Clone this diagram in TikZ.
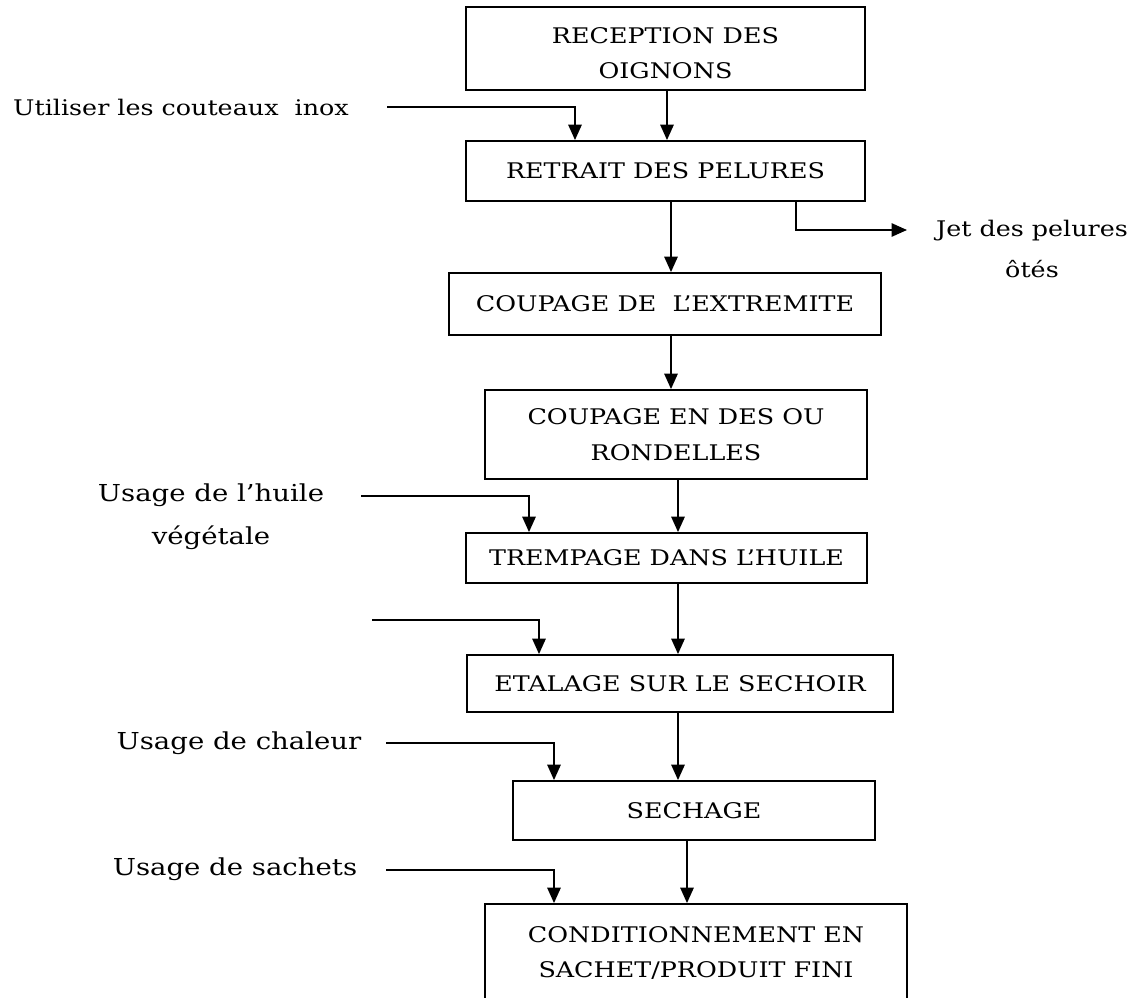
\documentclass[tikz,border=0pt]{standalone}
\usepackage{fontspec}
\setmainfont{DejaVu Serif}[FakeStretch=1.18]
\usetikzlibrary{arrows.meta}
\newlength\upx
\setlength\upx{0.025cm}
\newcommand\stepfont{\fontsize{15.3}{25.5}\selectfont}
\newcommand\wastefont{\fontsize{15.3}{29.8}\selectfont}
\newcommand\inputfont{\fontsize{16.6}{30.5}\selectfont}
\begin{document}
\begin{tikzpicture}[x=0.025cm, y=-0.025cm,
  stepbox/.style={draw, line width=1.3pt, inner sep=0pt, align=center, font=\stepfont},
  flow/.style={line width=1.3pt, -{Triangle[length=11pt,width=9.5pt]}},
  lbl/.style={inner sep=0pt, align=center}]
\useasboundingbox (0,0) rectangle (1144,998);
\clip (0,0) rectangle (1144,998);

% process steps
\node[stepbox, minimum width=399\upx, minimum height=83\upx] (b1) at (665.5,48.5) {\rule{0pt}{18pt}RECEPTION DES\\OIGNONS};
\node[stepbox, minimum width=399\upx, minimum height=60\upx] (b2) at (665.5,171) {RETRAIT DES PELURES};
\node[stepbox, minimum width=432\upx, minimum height=62\upx] (b3) at (665,304) {COUPAGE DE\ \ L’EXTREMITE};
\node[stepbox, minimum width=382\upx, minimum height=89\upx] (b4) at (676,434.5) {COUPAGE EN DES OU\\RONDELLES};
\node[stepbox, minimum width=401\upx, minimum height=50\upx] (b5) at (666.5,558) {TREMPAGE DANS L’HUILE};
\node[stepbox, minimum width=426\upx, minimum height=57\upx] (b6) at (680,683.5) {ETALAGE SUR LE SECHOIR};
\node[stepbox, minimum width=362\upx, minimum height=59\upx] (b7) at (694,810.5) {SECHAGE};
\node[stepbox, minimum width=422\upx, minimum height=98\upx] (b8) at (696,953) {CONDITIONNEMENT EN\\SACHET/PRODUIT FINI};

% main flow
\draw[flow] ([xshift=1.5\upx]b1.south) -- ([xshift=1.5\upx]b1.south |- b2.north);
\draw[flow] ([xshift=5.5\upx]b2.south) -- ([xshift=5.5\upx]b2.south |- b3.north);
\draw[flow] ([xshift=6\upx]b3.south) -- ([xshift=6\upx]b3.south |- b4.north);
\draw[flow] ([xshift=2\upx]b4.south) -- ([xshift=2\upx]b4.south |- b5.north);
\draw[flow] ([xshift=11.5\upx]b5.south) -- ([xshift=11.5\upx]b5.south |- b6.north);
\draw[flow] ([xshift=-2\upx]b6.south) -- ([xshift=-2\upx]b6.south |- b7.north);
\draw[flow] ([xshift=-7\upx]b7.south) -- ([xshift=-7\upx]b7.south |- b8.north);

% inputs
\node[lbl, font=\stepfont] (l1) at (181,107) {Utiliser les couteaux\ \ inox};
\node[lbl, font=\inputfont] (l2) at (211,516.5) {Usage de l’huile\\végétale};
\node[lbl, font=\inputfont] (l4) at (239,743) {Usage de chaleur};
\node[lbl, font=\inputfont] (l5) at (235,869) {Usage de sachets};

\coordinate (s1) at (387,107);
\coordinate (s2) at (361,496);
\coordinate (s3) at (372,620);
\coordinate (s4) at (386,743);
\coordinate (s5) at (386,870);
\draw[flow] (s1) -| ([xshift=-90.5\upx]b2.north);
\draw[flow] (s2) -| ([xshift=-137.5\upx]b5.north);
\draw[flow] (s3) -| ([xshift=-141\upx]b6.north);
\draw[flow] (s4) -| ([xshift=-140\upx]b7.north);
\draw[flow] (s5) -| ([xshift=-142\upx]b8.north);

% waste output
\node[lbl, font=\wastefont] (lo) at (1032,249) {Jet des pelures\\ôtés};
\coordinate (o1) at (907,230);
\draw[flow] ([xshift=130.5\upx]b2.south) |- (o1);
\end{tikzpicture}
\end{document}
